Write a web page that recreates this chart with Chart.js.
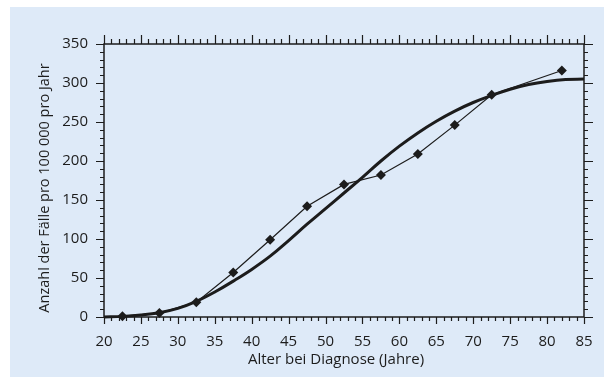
<!DOCTYPE html>
<html>
<head>
<meta charset="utf-8">
<script src="https://cdn.jsdelivr.net/npm/chart.js@4.4.1/dist/chart.umd.min.js"></script>
<style>
  html, body { margin: 0; padding: 0; background: #ffffff; }
  #wrap { position: relative; width: 614px; height: 384px; }
</style>
</head>
<body>
<div id="wrap"><canvas id="incidence-chart" width="614" height="384"></canvas></div>
<script>
// measured incidence (diamonds, thin line)
const age_points = [22.5, 27.5, 32.5, 37.5, 42.5, 47.5, 52.5, 57.5, 62.5, 67.5, 72.5, 82];
const rate_points = [1, 5, 19, 57, 99, 142, 170, 182, 209, 246, 285, 316];

// fitted curve (thick line)
const curve_ages = [20, 22.5, 25, 27.5, 30, 32.5, 35, 37.5, 40, 42.5, 45, 47.5, 50, 52.5, 55, 57.5, 60, 62.5, 65, 67.5, 70, 72.5, 75, 77.5, 80, 82.5, 85];
const curve_rates = [0, 0.8, 2.5, 5.5, 11, 20, 32, 46, 61, 78, 98, 119, 139, 159, 179, 200, 219, 236, 251, 264, 275, 284, 292, 298, 302, 304.5, 305];

const x_ticks = [20, 25, 30, 35, 40, 45, 50, 55, 60, 65, 70, 75, 80, 85];
const y_ticks = [0, 50, 100, 150, 200, 250, 300, 350];

const x_title = "Alter bei Diagnose (Jahre)";
const y_title = "Anzahl der Fälle pro 100 000 pro Jahr";

const ink = '#1c1c1c';
const font_family = "'Open Sans', 'Noto Sans', sans-serif";

let measured = age_points.map((a, i) => ({ x: a, y: rate_points[i] }));
let fitted = curve_ages.map((a, i) => ({ x: a, y: curve_rates[i] }));

// panel background
const panelPlugin = {
    id: 'panel',
    beforeDraw(chart) {
        let ctx = chart.ctx;
        ctx.save();
        ctx.fillStyle = '#ffffff';
        ctx.fillRect(0, 0, chart.width, chart.height);
        ctx.fillStyle = '#deeaf8';
        ctx.fillRect(10, 7, 594, 370);
        ctx.restore();
    }
};

// frame, major + minor ticks on all four sides, axis titles
const framePlugin = {
    id: 'frame',
    afterDraw(chart) {
        let ctx = chart.ctx;
        let area = chart.chartArea;
        let xs = chart.scales.x;
        let ys = chart.scales.y;
        ctx.save();
        ctx.strokeStyle = ink;
        ctx.lineWidth = 1.5;
        ctx.strokeRect(area.left, area.top, area.right - area.left, area.bottom - area.top);

        ctx.lineWidth = 1.2;
        ctx.beginPath();
        for (let v = 20; v <= 85; v++) {
            let px = Math.round(xs.getPixelForValue(v)) + 0.5;
            let major = (v % 5 == 0);
            ctx.moveTo(px, area.bottom);
            ctx.lineTo(px, area.bottom + (major ? 7 : 4));
            ctx.moveTo(px, area.top);
            ctx.lineTo(px, area.top - (major ? 9 : 5));
        }
        for (let v = 0; v <= 350; v += 10) {
            let py = Math.round(ys.getPixelForValue(v)) + 0.5;
            let major = (v % 50 == 0);
            ctx.moveTo(area.left, py);
            ctx.lineTo(area.left - (major ? 8 : 4), py);
            ctx.moveTo(area.right, py);
            ctx.lineTo(area.right + (major ? 9 : 4), py);
        }
        ctx.stroke();

        ctx.fillStyle = ink;
        ctx.textAlign = 'center';
        ctx.textBaseline = 'middle';
        ctx.font = "15px " + font_family;
        ctx.fillText(x_title, 336, 360);

        ctx.font = "14.5px " + font_family;
        ctx.translate(45, 188);
        ctx.rotate(-Math.PI / 2);
        ctx.fillText(y_title, 0, 0);
        ctx.restore();
    }
};

let config = {
    type: 'line',
    data: {
        datasets: [{
            label: 'gemessen',
            data: measured,
            borderColor: ink,
            backgroundColor: ink,
            borderWidth: 1.2,
            pointStyle: 'rectRot',
            pointRadius: 5,
            pointBorderWidth: 0,
            tension: 0,
            clip: 8
        }, {
            label: 'Kurve',
            data: fitted,
            borderColor: ink,
            borderWidth: 3,
            pointRadius: 0,
            tension: 0.4,
            clip: 4
        }]
    },
    options: {
        responsive: false,
        animation: false,
        events: [],
        layout: { padding: { left: 0, top: 44, right: 30, bottom: 0 } },
        plugins: {
            legend: { display: false },
            tooltip: { enabled: false }
        },
        scales: {
            x: {
                type: 'linear',
                min: 20,
                max: 85,
                afterFit: (scale) => { scale.height = 67; },
                afterBuildTicks: (scale) => { scale.ticks = x_ticks.map(v => ({ value: v })); },
                grid: { display: false, drawTicks: false },
                border: { display: false },
                ticks: {
                    padding: 16,
                    color: ink,
                    font: { family: font_family, size: 15 },
                    maxRotation: 0
                }
            },
            y: {
                type: 'linear',
                min: 0,
                max: 350,
                afterFit: (scale) => { scale.width = 104; },
                afterBuildTicks: (scale) => { scale.ticks = y_ticks.map(v => ({ value: v })); },
                grid: { display: false, drawTicks: false },
                border: { display: false },
                ticks: {
                    padding: 16,
                    color: ink,
                    font: { family: font_family, size: 15 }
                }
            }
        }
    },
    plugins: [panelPlugin, framePlugin]
};

let incidence_chart = new Chart(document.getElementById("incidence-chart"), config);
</script>
</body>
</html>
